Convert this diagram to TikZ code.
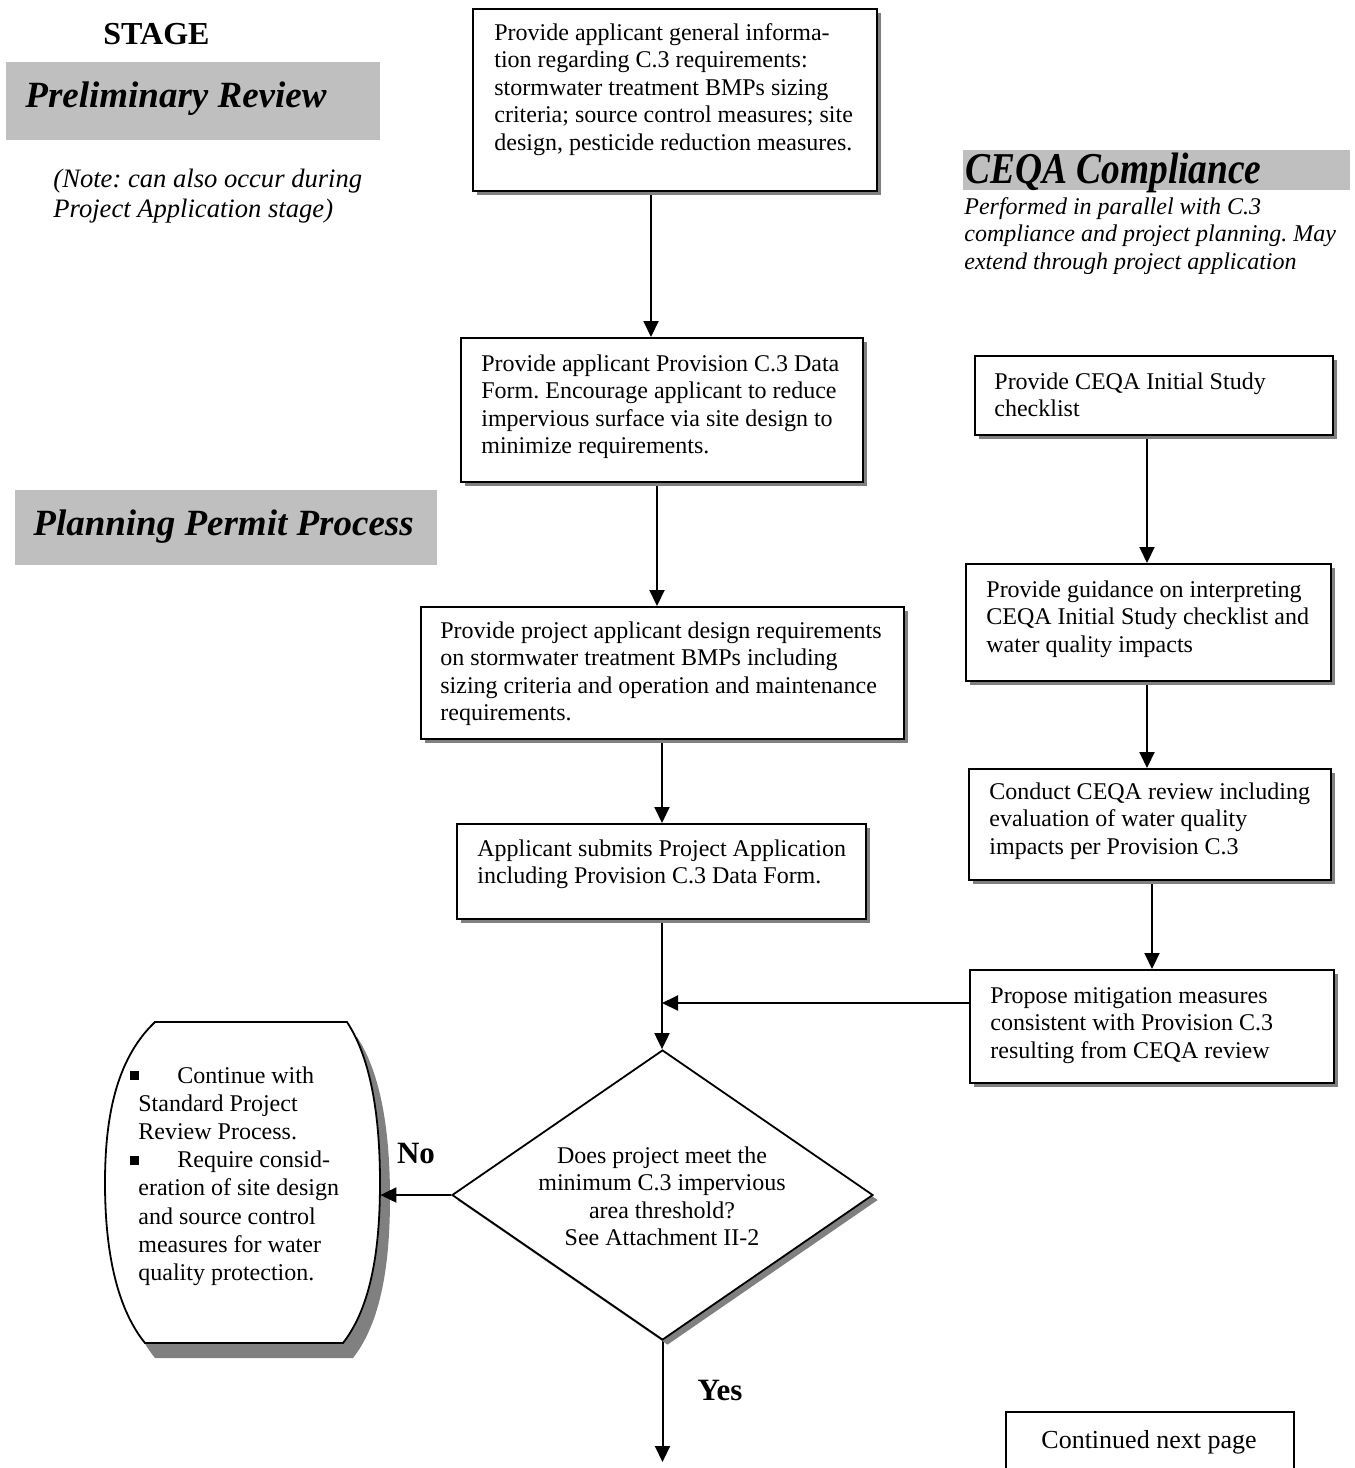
\documentclass[tikz,border=0pt]{standalone}
\usepackage{graphicx}
\usepackage{fontspec}
\setmainfont{Liberation Serif}
\frenchspacing
\usetikzlibrary{shapes.geometric,arrows.meta,shadows}
\pgfdeclarelayer{bg}
\pgfsetlayers{bg,main}
\tikzset{
  shd/.style={drop shadow={shadow xshift=2pt,shadow yshift=-2pt,fill=black!50,opacity=1}},
  bx/.style={draw,line width=0.9pt,fill=white,inner sep=0pt,anchor=north west,shd},
  txt/.style={align=left,inner sep=0pt,anchor=north west,font=\fontsize{12}{13.75}\selectfont},
  arr/.style={line width=1pt,-{Triangle[length=8pt,width=7.5pt]}},
  hdr/.style={fill=black!25,draw=none,inner sep=0pt,anchor=north west},
  htxt/.style={font=\fontsize{18.5}{22}\selectfont\bfseries\itshape,inner sep=0pt,anchor=base west},
  note/.style={font=\fontsize{13.3}{15}\selectfont\itshape,inner sep=0pt,anchor=base west},
  cei/.style={font=\fontsize{12}{14}\selectfont\itshape,inner sep=0pt,anchor=base west},
  lbl/.style={font=\fontsize{15.5}{18}\selectfont\bfseries,inner sep=0pt},
}
\begin{document}
\begin{tikzpicture}[x=0.5pt,y=-0.5pt]
\useasboundingbox (0,0) rectangle (1355,1468);
\clip (0,0) rectangle (1355,1468);

% ---- stage headers ----
\node[font=\fontsize{16}{19}\selectfont\bfseries,inner sep=0pt,anchor=base west] (stage) at (103,44) {STAGE};
\node[hdr,minimum width=187pt,minimum height=39pt] (prh) at (6,62) {};
\node[htxt] (prt) at (25,107) {Preliminary Review};
\node[note] (n1) at (53,187) {(Note: can also occur during};
\node[note] (n2) at (53,217) {Project Application stage)};
\node[hdr,minimum width=211pt,minimum height=37.5pt] (pph) at (15,490) {};
\node[htxt] (ppt) at (33,535) {Planning Permit Process};
\node[hdr,minimum width=193.5pt,minimum height=20pt] (ceh) at (963,150) {};
\node[inner sep=0pt,anchor=base west] (cet) at (965,183) {\scalebox{0.85}[1]{\fontsize{22}{26}\selectfont\bfseries\itshape CEQA Compliance}};
\begin{scope}
\clip (900,192) rectangle (1355,273);
\node[cei] (ce1) at (964,214) {Performed in parallel with C.3};
\node[cei] (ce2) at (964,241) {compliance and project planning. May};
\node[cei] (ce3) at (964,269) {extend through project application};
\end{scope}

% ---- left column boxes ----
\node[bx,minimum width=202pt,minimum height=91pt] (b1) at (472,8) {};
\node[txt] (t1) at ([xshift=11pt,yshift=-7.5pt]b1.north west) {Provide applicant general informa-\\tion regarding C.3 requirements:\\stormwater treatment BMPs sizing\\criteria; source control measures; site\\design, pesticide reduction measures.};

\node[bx,minimum width=201pt,minimum height=72pt] (b2) at (460,337) {};
\node[txt] (t2) at ([xshift=10.5pt,yshift=-8.5pt]b2.north west) {Provide applicant Provision C.3 Data\\Form. Encourage applicant to reduce\\impervious surface via site design to\\minimize requirements.};

\node[bx,minimum width=241.5pt,minimum height=66pt] (b3) at (420,606) {};
\node[txt] (t3) at ([xshift=10pt,yshift=-7.5pt]b3.north west) {Provide project applicant design requirements\\on stormwater treatment BMPs including\\sizing criteria and operation and maintenance\\requirements.};

\node[bx,minimum width=204.5pt,minimum height=47.5pt] (b4) at (456,823) {};
\node[txt] (t4) at ([xshift=10.5pt,yshift=-8pt]b4.north west) {Applicant submits Project Application\\including Provision C.3 Data Form.};

% ---- CEQA column boxes ----
\node[bx,minimum width=179pt,minimum height=39.5pt] (c1) at (974,355) {};
\node[txt] (ct1) at ([xshift=10pt,yshift=-8.5pt]c1.north west) {Provide CEQA Initial Study\\checklist};

\node[bx,minimum width=182.5pt,minimum height=58.5pt] (c2) at (965,563) {};
\node[txt] (ct2) at ([xshift=10.5pt,yshift=-8.5pt]c2.north west) {Provide guidance on interpreting\\CEQA Initial Study checklist and\\water quality impacts};

\node[bx,minimum width=181pt,minimum height=55.5pt] (c3) at (968,768) {};
\node[txt] (ct3) at ([xshift=10.5pt,yshift=-7pt]c3.north west) {Conduct CEQA review including\\evaluation of water quality\\impacts per Provision C.3};

\node[bx,minimum width=182pt,minimum height=56.5pt] (c4) at (969,969) {};
\node[txt] (ct4) at ([xshift=10.5pt,yshift=-9pt]c4.north west) {Propose mitigation measures\\consistent with Provision C.3\\resulting from CEQA review};

% ---- decision ----
\node[diamond,draw,fill=white,line width=0.9pt,minimum width=210.5pt,minimum height=145pt,inner sep=0pt,
  drop shadow={shadow xshift=2.5pt,shadow yshift=-2.5pt,fill=black!50,opacity=1}] (dm) at (662.5,1195) {};
\node[txt,align=center,anchor=north] (dmt) at (662,1146) {Does project meet the\\minimum C.3 impervious\\area threshold?\\See Attachment II-2};

% ---- rounded "No" box ----
\fill[black!50,shift={(10,15)}] (155,1022) -- (347,1022) .. controls (372,1060) and (380,1120) .. (380,1183)
  .. controls (380,1246) and (372,1306) .. (343,1343) -- (145,1343)
  .. controls (115,1306) and (105,1246) .. (105,1183) .. controls (105,1120) and (115,1060) .. (155,1022) -- cycle;
\draw[fill=white,line width=0.9pt] (155,1022) -- (347,1022) .. controls (372,1060) and (380,1120) .. (380,1183)
  .. controls (380,1246) and (372,1306) .. (343,1343) -- (145,1343)
  .. controls (115,1306) and (105,1246) .. (105,1183) .. controls (105,1120) and (115,1060) .. (155,1022) -- cycle;
\node[inner sep=0pt,minimum width=137.5pt,minimum height=160.5pt] (rb) at (242.5,1182.5) {};
\node[txt,font=\fontsize{12}{14.1}\selectfont] (rbt) at (130,1066) {\makebox[23.5pt][l]{\raisebox{1.5pt}{\rule{4.5pt}{4.5pt}}}Continue with\\\hspace*{4pt}Standard Project\\\hspace*{4pt}Review Process.\\\makebox[23.5pt][l]{\raisebox{1.5pt}{\rule{4.5pt}{4.5pt}}}Require consid-\\\hspace*{4pt}eration of site design\\\hspace*{4pt}and source control\\\hspace*{4pt}measures for water\\\hspace*{4pt}quality protection.};

% ---- continued ----
\node[draw,line width=0.9pt,minimum width=144pt,minimum height=40pt,anchor=north west,inner sep=0pt] (cn) at (1005,1411) {};
\node[font=\fontsize{13}{15}\selectfont,inner sep=0pt,anchor=base] (cnt) at (1149,1448) {Continued next page};

% ---- labels ----
\node[lbl] (no) at (416,1153) {No};
\node[lbl] (yes) at (720,1390) {Yes};

% ---- connectors ----
\coordinate (x1) at (651,0);
\coordinate (x2) at (657,0);
\coordinate (x3) at (662,0);
\coordinate (x5) at (1147,0);
\coordinate (x6) at (1152,0);
\coordinate (jn) at (662,1003);
\coordinate (ye) at (662.5,1462);
\begin{pgfonlayer}{bg}
\draw[arr] (b1.south -| x1) -- (b2.north -| x1);
\draw[arr] (b2.south -| x2) -- (b3.north -| x2);
\draw[arr] (b3.south -| x3) -- (b4.north -| x3);
\draw[arr] (b4.south -| x3) -- (dm.north -| x3);
\draw[arr] (c4.west |- jn) -- (jn);
\draw[arr] (c1.south -| x5) -- (c2.north -| x5);
\draw[arr] (c2.south -| x5) -- (c3.north -| x5);
\draw[arr] (c3.south -| x6) -- (c4.north -| x6);
\draw[arr] (dm.south) -- (ye);
\end{pgfonlayer}
\draw[arr] (dm.west) -- (dm.west -| rb.east);
\end{tikzpicture}
\end{document}
